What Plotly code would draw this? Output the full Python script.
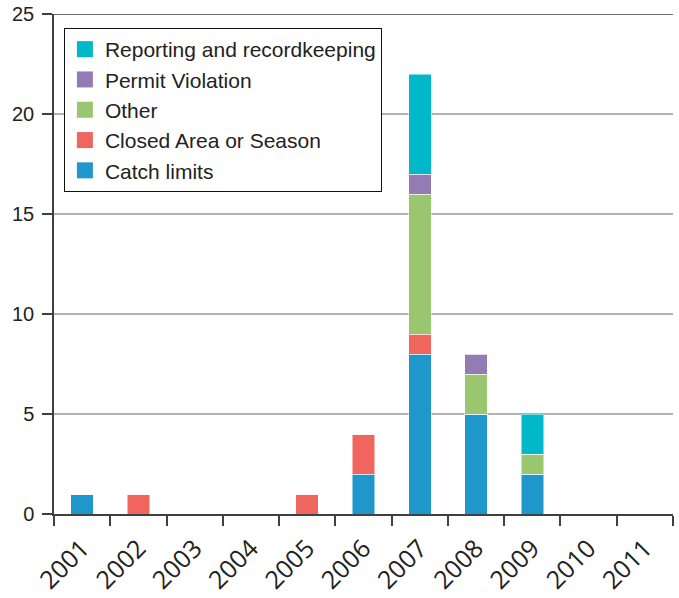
import plotly.graph_objects as go

years = ["2001", "2002", "2003", "2004", "2005", "2006", "2007", "2008", "2009", "2010", "2011"]
catch_limits = [1, 0, 0, 0, 0, 2, 8, 5, 2, 0, 0]
closed_area = [0, 1, 0, 0, 1, 2, 1, 0, 0, 0, 0]
other = [0, 0, 0, 0, 0, 0, 7, 2, 1, 0, 0]
permit_violation = [0, 0, 0, 0, 0, 0, 1, 1, 0, 0, 0]
reporting = [0, 0, 0, 0, 0, 0, 5, 0, 2, 0, 0]

series = [
    ("Catch limits", catch_limits, "#2097CB"),
    ("Closed Area or Season", closed_area, "#F0665F"),
    ("Other", other, "#99C66F"),
    ("Permit Violation", permit_violation, "#937CB4"),
    ("Reporting and recordkeeping", reporting, "#00B8C8"),
]

fig = go.Figure()
for name, vals, col in series:
    fig.add_trace(go.Bar(
        x=years, y=vals, name=name, legendgroup=name, showlegend=False,
        marker=dict(color=col, line=dict(color="rgba(255,255,255,0.5)", width=1)),
    ))
# legend entries with larger square swatches
for name, vals, col in series:
    fig.add_trace(go.Scatter(
        x=[None], y=[None], mode="markers", name=name, legendgroup=name,
        marker=dict(symbol="square", size=17, color=col, line=dict(width=0)),
        hoverinfo="skip",
    ))

fig.update_layout(
    barmode="stack",
    bargap=0.6,
    width=679, height=598,
    margin=dict(l=54, r=6, t=14, b=84, autoexpand=False),
    plot_bgcolor="white", paper_bgcolor="white",
    font=dict(family="Liberation Sans, Arial, sans-serif", color="#222222"),
    legend=dict(
        traceorder="reversed",
        x=0.016, y=0.972, xanchor="left", yanchor="top",
        bordercolor="#111111", borderwidth=1, bgcolor="white",
        font=dict(size=21, family="Liberation Sans, Arial, sans-serif", color="#222222"),
        itemwidth=30, itemsizing="trace",
    ),
    showlegend=True,
)

fig.update_xaxes(
    type="category",
    tickson="boundaries",
    ticks="outside", ticklen=10, tickcolor="#404040", tickwidth=1.5,
    showline=True, linecolor="#404040", linewidth=1.5,
    tickangle=-45,
    tickfont=dict(size=25, family="Open Sans, sans-serif", color="#222222"),
    ticklabelstandoff=8,
    showgrid=False, automargin=False,
)
fig.update_yaxes(
    range=[0, 25],
    tickvals=[0, 5, 10, 15, 20, 25],
    ticks="outside", ticklen=10, tickcolor="#404040", tickwidth=1.5,
    showline=True, linecolor="#404040", linewidth=1.5,
    showgrid=True, gridcolor="#b0b0b0", gridwidth=1.5,
    zeroline=False, automargin=False,
    tickfont=dict(size=20, family="Liberation Sans, Arial, sans-serif", color="#222222"),
    ticklabelstandoff=4,
)
fig.add_shape(type="line", xref="paper", yref="y", x0=0, x1=1, y0=25, y1=25,
              line=dict(color="#404040", width=1.5))

fig.write_html("out.html")
